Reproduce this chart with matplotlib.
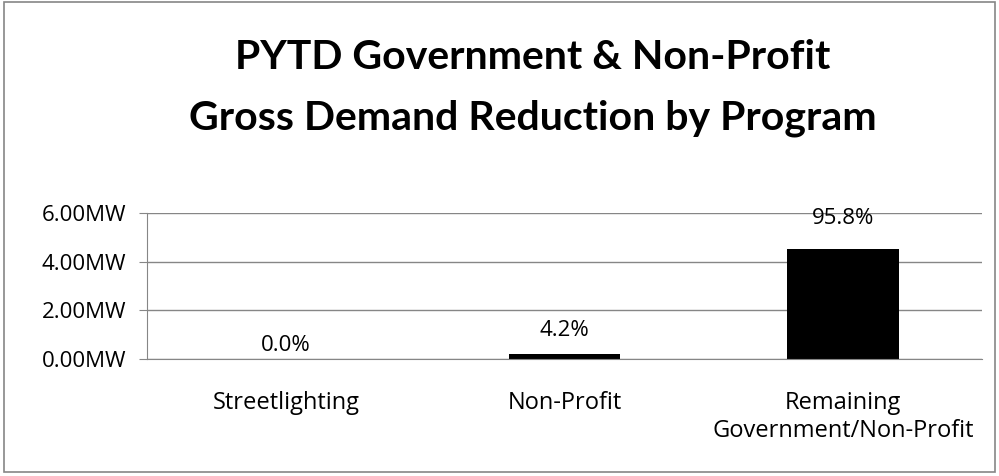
import matplotlib.pyplot as plt
from matplotlib.patches import Rectangle

programs = ["Streetlighting", "Non-Profit", "Remaining\nGovernment/Non-Profit"]
demand_mw = [0.0, 0.20, 4.52]
share_labels = ["0.0%", "4.2%", "95.8%"]
y_ticks = [0, 2, 4, 6]
y_tick_labels = ["0.00MW", "2.00MW", "4.00MW", "6.00MW"]


def main():
    plt.rcParams["font.family"] = ["Open Sans", "DejaVu Sans"]
    grid_gray = "#868686"
    label_size = 16

    fig = plt.figure(figsize=(9.99, 4.76), dpi=100)
    fig.patches.append(Rectangle((0.004, 0.008), 0.992, 0.988, transform=fig.transFigure,
                                 fill=False, edgecolor=grid_gray, linewidth=1.2))

    ax = fig.add_axes([0.147, 0.246, 0.836, 0.3065])
    x = range(len(programs))
    ax.bar(x, demand_mw, width=0.4, color="black")

    ax.set_xlim(-0.5, len(programs) - 0.5)
    ax.set_ylim(0, 6)
    ax.set_yticks(y_ticks)
    ax.set_yticklabels(y_tick_labels, fontsize=label_size)
    ax.set_xticks(list(x))
    ax.set_xticklabels(programs, fontsize=17, linespacing=1.22)
    ax.tick_params(axis="x", length=0, pad=23)
    ax.tick_params(axis="y", length=6, color=grid_gray, pad=9)

    ax.grid(axis="y", color=grid_gray, linewidth=1)
    ax.set_axisbelow(True)
    for side in ["top", "right"]:
        ax.spines[side].set_visible(False)
    ax.spines["left"].set_color(grid_gray)
    ax.spines["bottom"].set_color(grid_gray)

    offsets = [13, 24, 30]
    for i, (val, lab) in enumerate(zip(demand_mw, share_labels)):
        ax.annotate(lab, (i, val), xytext=(0, offsets[i]), textcoords="offset pixels",
                    ha="center", va="center", fontsize=label_size)

    fig.text(0.533, 0.815, "PYTD Government & Non-Profit\nGross Demand Reduction by Program",
             ha="center", va="center", fontsize=29.5, fontweight="bold",
             family=["Lato", "DejaVu Sans"], linespacing=1.78)

    fig.savefig("out.png", dpi=100)


if __name__ == "__main__":
    main()
